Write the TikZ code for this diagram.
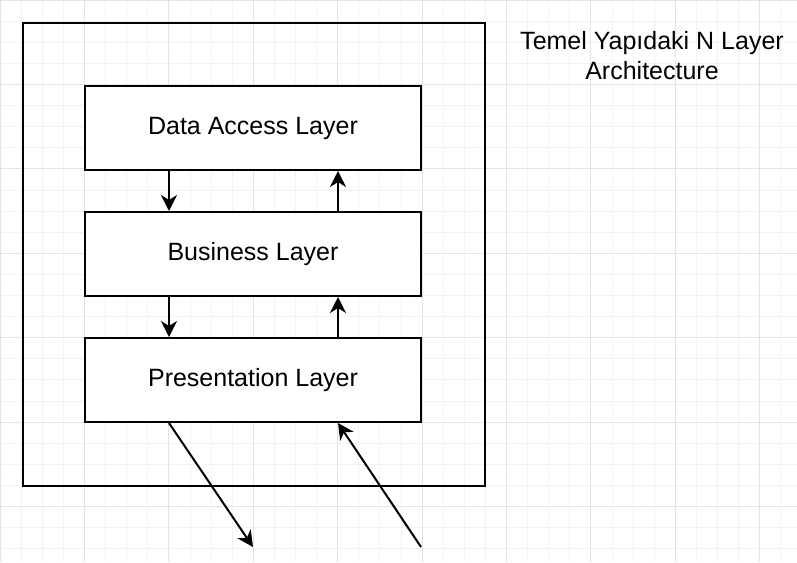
\documentclass[tikz,border=0pt]{standalone}
\usepackage{fontspec}
\setmainfont{Liberation Sans}
\usetikzlibrary{arrows.meta}
\begin{document}
\begin{tikzpicture}[x=1pt,y=-1pt,
  layerbox/.style={draw=black,line width=2pt,fill=white,minimum width=336pt,minimum height=84pt,inner sep=0pt,font=\fontsize{25}{30}\selectfont},
  flow/.style={line width=2pt,-{Stealth[length=16pt,width=16pt,inset=5pt]}},
]
\useasboundingbox (0,0) rectangle (797,562);
\fill[white] (0,0) rectangle (797,562);
% grid
\foreach \i in {0,...,38} {
  \draw[color=black!5,line width=0.8pt] ({\i*21.1},0) -- ({\i*21.1},562);
}
\foreach \i in {0,...,27} {
  \draw[color=black!5,line width=0.8pt] (0,{\i*21.1}) -- (797,{\i*21.1});
}
\foreach \i in {0,...,9} {
  \draw[color=black!11,line width=0.8pt] ({\i*84.4},0) -- ({\i*84.4},562);
}
\foreach \i in {0,...,6} {
  \draw[color=black!11,line width=0.8pt] (0,{\i*84.4}) -- (797,{\i*84.4});
}
% outer box
\node[draw=black,line width=2pt,minimum width=462pt,minimum height=463pt,inner sep=0pt,anchor=north west] (outer) at (22,22) {};
% layers
\node[layerbox] (dal) at (253,128) {Data Access Layer};
\node[layerbox] (bl) at (253,254) {Business Layer};
\node[layerbox] (pl) at (253,380) {Presentation Layer};
% title
\node[align=center,font=\fontsize{25}{30}\selectfont,inner sep=0pt] (title) at (652,56) {Temel Yapıdaki N Layer\\Architecture};
% connectors
\coordinate (outA) at (253,547);
\coordinate (inB) at (421,547);
\draw[flow] (dal.south west -| 169,0) -- (bl.north west -| 169,0);
\draw[flow] (bl.north east -| 338,0) -- (dal.south east -| 338,0);
\draw[flow] (bl.south west -| 169,0) -- (pl.north west -| 169,0);
\draw[flow] (pl.north east -| 338,0) -- (bl.south east -| 338,0);
\draw[flow] (pl.south west -| 169,0) -- (outA);
\draw[flow] (inB) -- (pl.south east -| 338,0);
\end{tikzpicture}
\end{document}
